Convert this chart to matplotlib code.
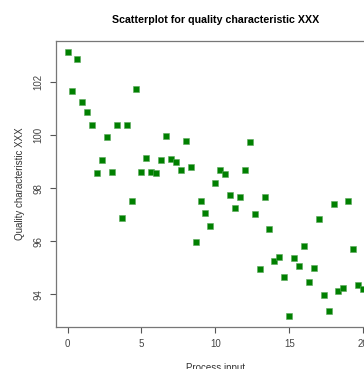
import numpy as np
import matplotlib
matplotlib.use('Agg')
from matplotlib import pyplot as plt

# process input (x) and quality characteristic (y)
process_input = np.arange(61) / 3.0
quality = [103.15, 101.67, 102.89, 101.26, 100.88, 100.38, 98.59, 99.07, 99.93, 98.61,
           100.40, 96.88, 100.39, 97.52, 101.76, 98.61, 99.12, 98.61, 98.59, 99.07,
           99.96, 99.09, 98.97, 98.69, 99.77, 98.79, 95.95, 97.52, 97.08, 96.59,
           98.21, 98.69, 98.54, 97.74, 97.25, 97.66, 98.70, 99.76, 97.02, 94.93,
           97.66, 96.46, 95.26, 95.40, 94.66, 93.17, 95.37, 95.06, 95.83, 94.45,
           94.98, 96.85, 93.96, 93.38, 97.42, 94.11, 94.25, 97.51, 95.70, 94.36,
           94.18]
x_ticks = [0, 5, 10, 15, 20]
y_ticks = [94, 96, 98, 100, 102]

plt.rcParams['font.family'] = ['Liberation Sans', 'DejaVu Sans']

fig = plt.figure(figsize=(3.64, 3.69), dpi=100)
ax = fig.add_axes([0.153, 0.1146, 0.877, 0.774])

ax.scatter(process_input, quality, marker='s', s=22, color='#008000',
           edgecolors='#5aa85a', linewidths=0.4, zorder=3)

# R style limits: 4% padding around data range
xr = max(process_input) - min(process_input)
yr = max(quality) - min(quality)
ax.set_xlim(min(process_input) - 0.04 * xr, max(process_input) + 0.04 * xr)
ax.set_ylim(min(quality) - 0.04 * yr, max(quality) + 0.04 * yr)

ax.set_xticks(x_ticks)
ax.set_yticks(y_ticks)
ax.set_xticklabels([str(t) for t in x_ticks])
ax.set_yticklabels([str(t) for t in y_ticks], rotation=90, va='center')

for sp in ax.spines.values():
    sp.set_color('#777777')
    sp.set_linewidth(0.9)
ax.tick_params(direction='out', length=4, width=0.8, color='#555555',
               labelcolor='#444444', labelsize=7, pad=5)

# title is centred on the full plot region (which runs past the right edge)
ax.set_title('Scatterplot for quality characteristic XXX', fontsize=7.7,
             fontweight='bold', pad=13, x=0.5)
ax.set_xlabel('Process input', fontsize=7, color='#333333', labelpad=10)
ax.set_ylabel('Quality characteristic XXX', fontsize=7, color='#333333', labelpad=6)

fig.savefig('out.png', dpi=100)
